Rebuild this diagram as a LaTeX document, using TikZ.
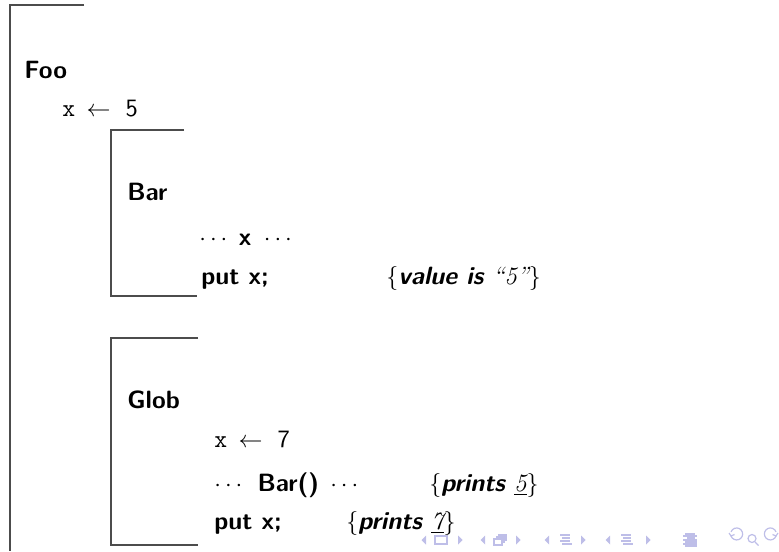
\documentclass[tikz,border=0pt]{standalone}
\usepackage{amsmath}
\begin{document}
\begin{tikzpicture}[x=0.5pt,y=-0.5pt,
  txt/.style={anchor=base west,inner sep=0pt,font=\fontsize{12.5}{15}\selectfont\sffamily},
  bracket/.style={draw=black!70,line width=0.7pt},
  nav/.style={fill=navc,draw=none},
  navl/.style={draw=navc,line width=0.6pt}]
\definecolor{navc}{RGB}{190,190,232}
\useasboundingbox (0,0) rectangle (779,551);
% brackets
\coordinate (f1) at (84,5); \coordinate (f2) at (10,5); \coordinate (f3) at (10,551);
\draw[bracket] (f1) -- (f2) -- (f3);
\coordinate (b1) at (184,130); \coordinate (b2) at (111,130); \coordinate (b3) at (111,296); \coordinate (b4) at (197,296);
\draw[bracket] (b1) -- (b2) -- (b3) -- (b4);
\coordinate (g1) at (198,338); \coordinate (g2) at (111,338); \coordinate (g3) at (111,545); \coordinate (g4) at (198,545);
\draw[bracket] (g1) -- (g2) -- (g3) -- (g4);
% texts
\node[txt] (foo) at (24,78) {\bfseries Foo};
\node[txt] (xa) at (62,116) {\ttfamily x\rmfamily\hspace{0.45em}$\leftarrow$\hspace{0.6em}\sffamily 5};
\node[txt] (bar) at (127,200) {\bfseries Bar};
\node[txt] (xuse) at (199,245) {$\cdots$\hspace{0.3em}\bfseries x\mdseries\hspace{0.5em}$\cdots$};
\node[txt] (put1) at (201,284) {\bfseries put\ x;};
\node[txt] (val) at (386,284) {$\{$\bfseries\itshape value is {\rmfamily\mdseries\itshape ``5''}$\}$};
\node[txt] (glob) at (127,408) {\bfseries Glob};
\node[txt] (xb) at (214,447) {\ttfamily x\rmfamily\hspace{0.45em}$\leftarrow$\hspace{0.6em}\sffamily 7};
\node[txt] (call) at (214,491) {$\cdots$\hspace{0.45em}\bfseries Bar()\mdseries\hspace{0.45em}$\cdots$};
\node[txt] (pr5) at (429,491) {$\{$\bfseries\itshape prints \underline{\rmfamily\mdseries\itshape 5}$\}$};
\node[txt] (put2) at (214,529) {\bfseries put\ x;};
\node[txt] (pr7) at (346,529) {$\{$\bfseries\itshape prints \underline{\rmfamily\mdseries\itshape 7}$\}$};
% navigation symbols
\fill[nav] (426,535.5) -- (426,544.5) -- (421.5,540) -- cycle;
\draw[navl] (435,536) rectangle (447,544);
\fill[nav] (458,535.5) -- (458,544.5) -- (462.5,540) -- cycle;
\fill[nav] (485,535.5) -- (485,544.5) -- (480.5,540) -- cycle;
\draw[navl] (494,539) rectangle (502,545);
\draw[navl] (496,537) -- (504,537) -- (504,543);
\draw[navl] (498,535) -- (506,535) -- (506,541);
\fill[nav] (516,535.5) -- (516,544.5) -- (520.5,540) -- cycle;
\fill[nav] (549,535.5) -- (549,544.5) -- (544.5,540) -- cycle;
\foreach \yy/\xa/\xb in {535/560/570,538/562/570,541/560/570,544/562/572} \draw[navl] (\xa,\yy) -- (\xb,\yy);
\fill[nav] (581,535.5) -- (581,544.5) -- (585.5,540) -- cycle;
\fill[nav] (610,535.5) -- (610,544.5) -- (605.5,540) -- cycle;
\foreach \yy/\xa/\xb in {535/621/631,538/623/631,541/621/631,544/623/633} \draw[navl] (\xa,\yy) -- (\xb,\yy);
\fill[nav] (646,535.5) -- (646,544.5) -- (650.5,540) -- cycle;
\foreach \yy/\xa/\xb in {534/685/695,536/683/697,538/687/695,540/683/697,542/685/697,544/683/697,546/685/697} \draw[navl] (\xa,\yy) -- (\xb,\yy);
\draw[navl] (731,536) arc[start angle=160,end angle=-160,radius=6] ;
\draw[navl] (729,533) -- (731,536) -- (734.5,534.5);
\draw[navl] (752,538.5) circle[radius=4];
\draw[navl] (755,542) -- (758.5,545.5);
\draw[navl] (776,536) arc[start angle=20,end angle=340,radius=6];
\draw[navl] (778,533) -- (776,536) -- (772.5,534.5);
\end{tikzpicture}
\end{document}
